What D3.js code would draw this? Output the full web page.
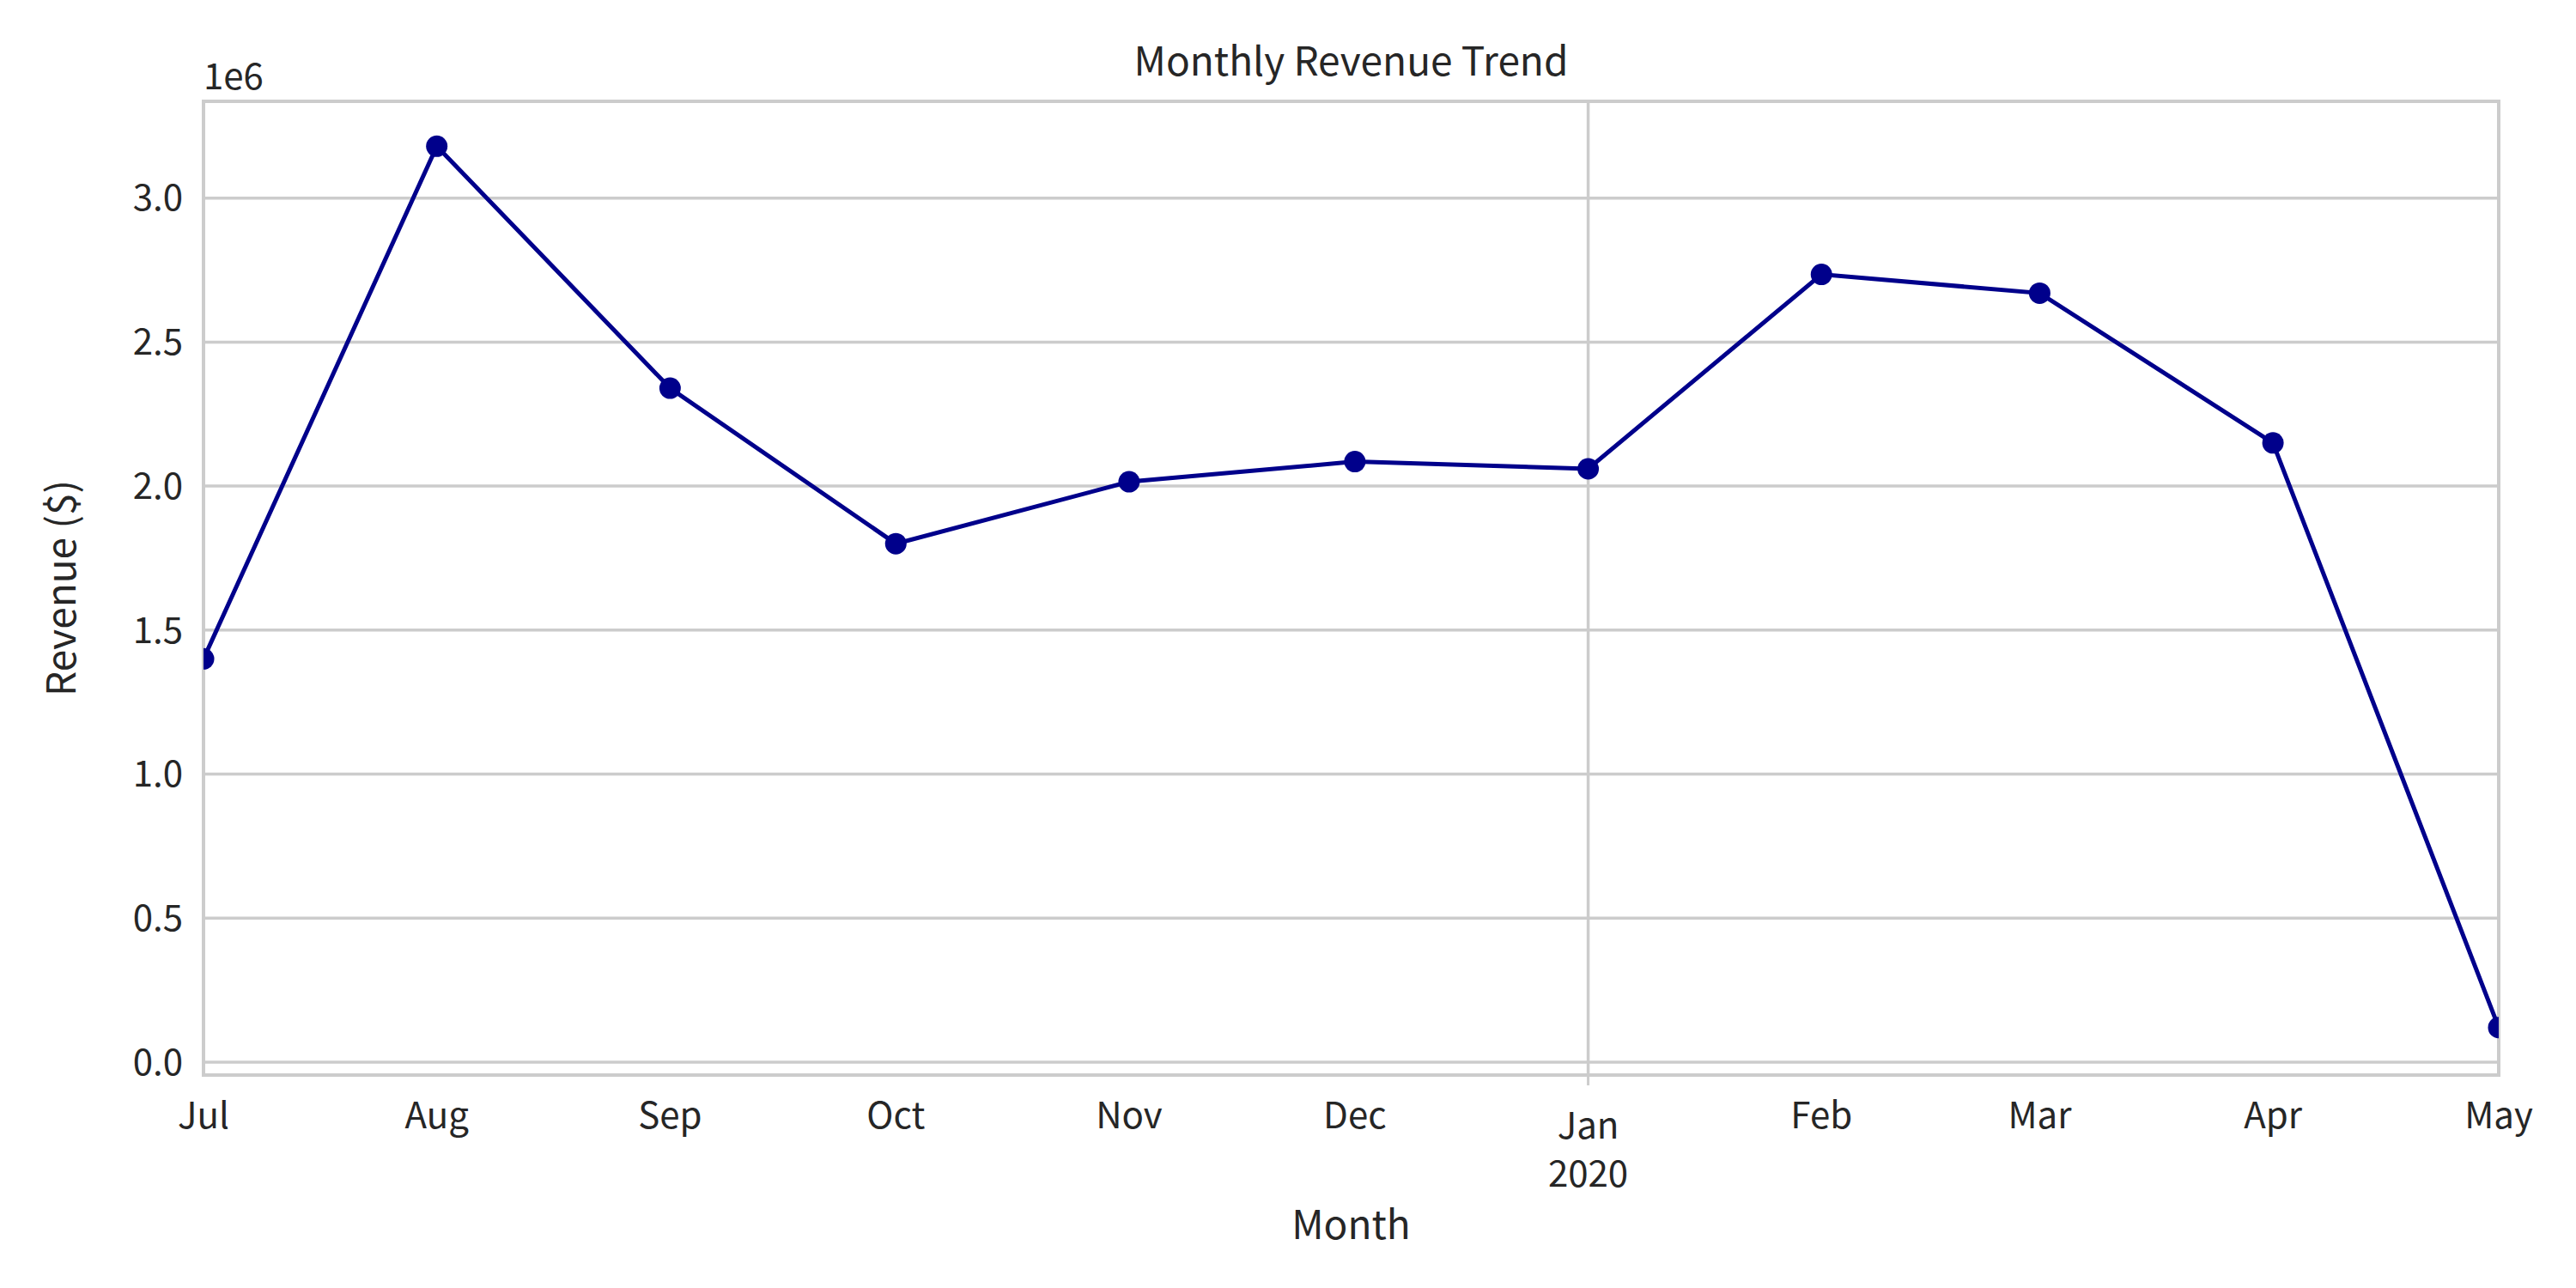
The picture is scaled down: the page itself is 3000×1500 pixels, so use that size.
<!DOCTYPE html>
<html><head><meta charset="utf-8">
<script src="https://cdn.jsdelivr.net/npm/d3@7"></script>
<style>body{margin:0;background:#fff}text{font-family:"Noto Sans CJK KR","Noto Sans",sans-serif;fill:#262626}</style>
</head><body><svg id="c" width="3000" height="1500"></svg>
<script>
const months = ["2019-07","2019-08","2019-09","2019-10","2019-11","2019-12","2020-01","2020-02","2020-03","2020-04","2020-05"];
const revenue = [1400000,3180000,2340000,1800000,2015000,2085000,2060000,2735000,2670000,2150000,120000];
const yTicks = [0,0.5,1.0,1.5,2.0,2.5,3.0];
const xLabels = ["Jul","Aug","Sep","Oct","Nov","Dec","Jan","Feb","Mar","Apr","May"];

const parse = d3.timeParse("%Y-%m");
const dates = months.map(parse);
const svg = d3.select("#c");
const L=237,R=2910,T=118,B=1252;
const x = d3.scaleTime().domain([dates[0],dates[dates.length-1]]).range([L,R]);
const y = d3.scaleLinear().domain([-45000,3336000]).range([B,T]);
const g = svg.append("g");
g.selectAll(".gy").data(yTicks).join("line").attr("x1",L).attr("x2",R)
 .attr("y1",d=>y(d*1e6)).attr("y2",d=>y(d*1e6)).attr("stroke","#cccccc").attr("stroke-width",3.5);
g.append("line").attr("x1",x(dates[6])).attr("x2",x(dates[6])).attr("y1",T).attr("y2",B).attr("stroke","#cccccc").attr("stroke-width",3.5);
g.append("rect").attr("x",L).attr("y",T).attr("width",R-L).attr("height",B-T).attr("fill","none").attr("stroke","#cccccc").attr("stroke-width",4);
g.selectAll(".yl").data(yTicks).join("text").attr("x",L-24).attr("y",d=>y(d*1e6)).attr("dy","0.35em")
 .attr("text-anchor","end").attr("font-size",42).text(d=>d.toFixed(1));
g.append("text").attr("x",L).attr("y",T-14).attr("font-size",42).text("1e6");
g.selectAll(".xl").data(dates).join("text").attr("x",d=>x(d)).attr("y",(d,i)=>i===6?1326:1314)
 .attr("text-anchor","middle").attr("font-size",42).text((d,i)=>xLabels[i]);
g.append("text").attr("x",x(dates[6])).attr("y",1382).attr("text-anchor","middle").attr("font-size",42).text("2020");
g.append("line").attr("x1",x(dates[6])).attr("x2",x(dates[6])).attr("y1",B).attr("y2",B+12).attr("stroke","#cccccc").attr("stroke-width",3);
svg.append("text").attr("x",(L+R)/2).attr("y",88).attr("text-anchor","middle").attr("font-size",46).text("Monthly Revenue Trend");
svg.append("text").attr("x",(L+R)/2).attr("y",1443).attr("text-anchor","middle").attr("font-size",46).text("Month");
svg.append("text").attr("transform",`translate(88,${(T+B)/2}) rotate(-90)`).attr("text-anchor","middle").attr("font-size",46).text("Revenue ($)");
svg.append("clipPath").attr("id","cp").append("rect").attr("x",L).attr("y",T).attr("width",R-L).attr("height",B-T);
const pg = svg.append("g").attr("clip-path","url(#cp)");
pg.append("path").datum(revenue).attr("fill","none").attr("stroke","#00008b").attr("stroke-width",5)
 .attr("d",d3.line().x((d,i)=>x(dates[i])).y(d=>y(d)));
pg.selectAll("circle").data(revenue).join("circle").attr("cx",(d,i)=>x(dates[i])).attr("cy",d=>y(d)).attr("r",12.5).attr("fill","#00008b");
</script></body></html>
